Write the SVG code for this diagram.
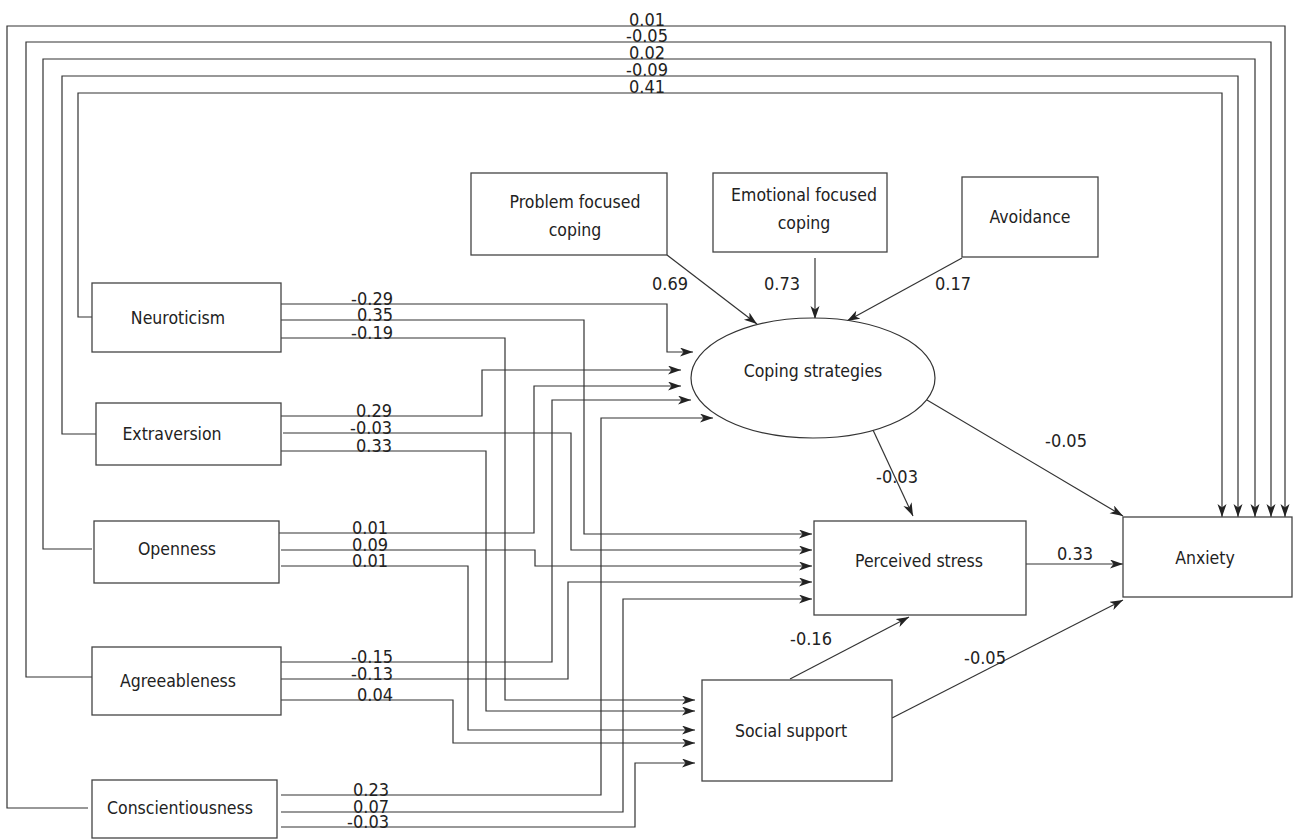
<svg xmlns="http://www.w3.org/2000/svg" width="1294" height="840" viewBox="0 0 1294 840">
<style>
.ln{fill:none;stroke:#333;stroke-width:1.2}
.ar{marker-end:url(#ah)}
.box{fill:#fff;stroke:#444;stroke-width:1.3}
.nt{font-family:"DejaVu Sans Condensed","Liberation Sans",sans-serif;font-size:17.5px;fill:#222;text-anchor:middle}
.lb{font-family:"DejaVu Sans Condensed","Liberation Sans",sans-serif;font-size:18px;fill:#222}
.e{text-anchor:end}
.m{text-anchor:middle}
</style>
<defs>
<marker id="ah" markerUnits="userSpaceOnUse" markerWidth="14" markerHeight="10" refX="13" refY="4.5" orient="auto">
<path d="M0,0 L13,4.5 L0,9 L3.5,4.5 z" fill="#222"/>
</marker>
</defs>
<rect width="1294" height="840" fill="#fff"/>
<g id="connectors">
<path class="ln ar" d="M88,808 H7 V26 H1285 V517"/>
<path class="ln ar" d="M92,677 H26 V42 H1271 V517"/>
<path class="ln ar" d="M92,549 H43 V59 H1255 V517"/>
<path class="ln ar" d="M96,434 H62 V76 H1238 V517"/>
<path class="ln ar" d="M94,317 H78 V93 H1222 V517"/>
<path class="ln ar" d="M281,304 H667 V352 H693"/>
<path class="ln ar" d="M281,320 H584 V534 H812"/>
<path class="ln ar" d="M281,338 H505 V700 H695"/>
<path class="ln ar" d="M281,416 H482 V370 H681"/>
<path class="ln ar" d="M283,433 H571 V550 H812"/>
<path class="ln ar" d="M281,451 H486 V711 H695"/>
<path class="ln ar" d="M279,533 H534 V386 H681"/>
<path class="ln ar" d="M281,550 H535 V566 H812"/>
<path class="ln ar" d="M281,566 H468 V730 H695"/>
<path class="ln ar" d="M279,662 H552 V400 H691"/>
<path class="ln ar" d="M281,679 H568 V582 H812"/>
<path class="ln ar" d="M279,700 H453 V743 H695"/>
<path class="ln ar" d="M281,795 H601 V418 H713"/>
<path class="ln ar" d="M281,812 H623 V599 H812"/>
<path class="ln ar" d="M281,827 H635 V763 H695"/>
<path class="ln ar" d="M667,255 L757,324"/>
<path class="ln ar" d="M815,258 V319"/>
<path class="ln ar" d="M962,258 L847,321"/>
<path class="ln ar" d="M873,430 L913,516"/>
<path class="ln ar" d="M927,400 L1123,516"/>
<path class="ln ar" d="M1026,564 H1123"/>
<path class="ln ar" d="M790,679 L909,617"/>
<path class="ln ar" d="M892,718 L1123,600"/>
<g class="lb m">
<text x="647" y="26">0.01</text>
<text x="647" y="42">-0.05</text>
<text x="647" y="59">0.02</text>
<text x="647" y="76">-0.09</text>
<text x="647" y="93">0.41</text>
<text x="670" y="290">0.69</text>
<text x="782" y="290">0.73</text>
<text x="953" y="290">0.17</text>
<text x="897" y="483">-0.03</text>
<text x="1066" y="447">-0.05</text>
<text x="1075" y="560">0.33</text>
<text x="811" y="645">-0.16</text>
<text x="985" y="664">-0.05</text>
</g>
<g class="lb e">
<text x="393" y="305">-0.29</text>
<text x="393" y="321">0.35</text>
<text x="393" y="339">-0.19</text>
<text x="392" y="417">0.29</text>
<text x="392" y="434">-0.03</text>
<text x="392" y="452">0.33</text>
<text x="388" y="534">0.01</text>
<text x="388" y="551">0.09</text>
<text x="388" y="567">0.01</text>
<text x="393" y="663">-0.15</text>
<text x="393" y="680">-0.13</text>
<text x="393" y="701">0.04</text>
<text x="389" y="796">0.23</text>
<text x="389" y="813">0.07</text>
<text x="389" y="828">-0.03</text>
</g>
</g>
<g id="neuroticism"><rect class="box" x="92" y="283" width="189" height="69"/><text class="nt" x="178" y="324">Neuroticism</text></g>
<g id="extraversion"><rect class="box" x="96" y="403" width="185" height="62"/><text class="nt" x="172" y="440">Extraversion</text></g>
<g id="openness"><rect class="box" x="94" y="521" width="185" height="62"/><text class="nt" x="177" y="555">Openness</text></g>
<g id="agreeableness"><rect class="box" x="92" y="647" width="189" height="68"/><text class="nt" x="178" y="687">Agreeableness</text></g>
<g id="conscientiousness"><rect class="box" x="92" y="780" width="185" height="58"/><text class="nt" x="180" y="814">Conscientiousness</text></g>
<g id="problem-focused"><rect class="box" x="471" y="173" width="196" height="82"/><text class="nt" x="575" y="208">Problem focused</text><text class="nt" x="575" y="236">coping</text></g>
<g id="emotional-focused"><rect class="box" x="713" y="173" width="174" height="79"/><text class="nt" x="804" y="201">Emotional focused</text><text class="nt" x="804" y="229">coping</text></g>
<g id="avoidance"><rect class="box" x="962" y="177" width="136" height="80"/><text class="nt" x="1030" y="223">Avoidance</text></g>
<g id="coping-strategies"><ellipse cx="813" cy="378" rx="122" ry="60" fill="#fff" stroke="#333" stroke-width="1.2"/><text class="nt" x="813" y="377">Coping strategies</text></g>
<g id="perceived-stress"><rect class="box" x="814" y="521" width="212" height="94"/><text class="nt" x="919" y="567">Perceived stress</text></g>
<g id="anxiety"><rect class="box" x="1123" y="517" width="169" height="80"/><text class="nt" x="1205" y="564">Anxiety</text></g>
<g id="social-support"><rect class="box" x="702" y="680" width="190" height="101"/><text class="nt" x="791" y="737">Social support</text></g>
</svg>
